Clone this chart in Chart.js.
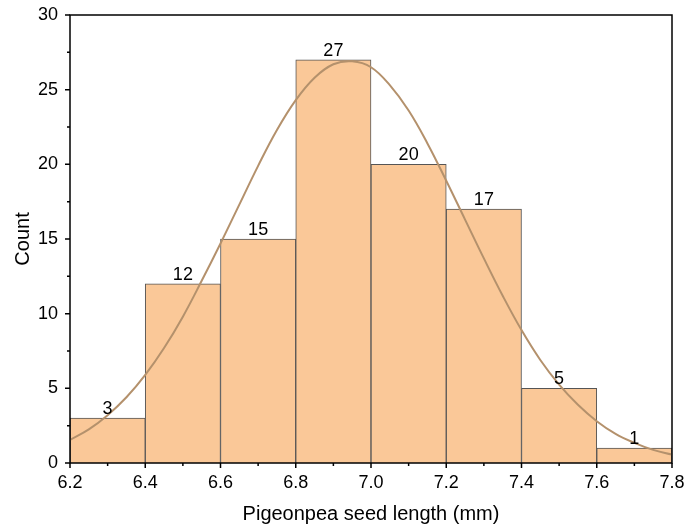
<!DOCTYPE html>
<html>
<head>
<meta charset="utf-8">
<script src="https://cdn.jsdelivr.net/npm/chart.js@4"></script>
<style>
  html, body { margin: 0; padding: 0; background: #fff; }
  #wrap { width: 686px; height: 531px; }
</style>
</head>
<body>
<div id="wrap"><canvas id="histChart"></canvas></div>
<script>
// histogram bins (centres) and counts
const binCenters = [6.3, 6.5, 6.7, 6.9, 7.1, 7.3, 7.5, 7.7];
const counts = [3, 12, 15, 27, 20, 17, 5, 1];

// fitted curve
const curveX = [6.2, 6.25, 6.3, 6.35, 6.4, 6.45, 6.5, 6.55, 6.6, 6.65, 6.7, 6.75, 6.8, 6.85, 6.9, 6.95,
                7.0, 7.05, 7.1, 7.15, 7.2, 7.25, 7.3, 7.35, 7.4, 7.45, 7.5, 7.55, 7.6, 7.65, 7.7, 7.75, 7.8];
const curveY = [1.55, 2.25, 3.2, 4.4, 5.9, 7.7, 9.8, 12.2, 14.7, 17.3, 19.9, 22.3, 24.3, 25.8, 26.7, 26.9,
                26.5, 25.3, 23.6, 21.4, 18.9, 16.3, 13.7, 11.2, 8.9, 6.9, 5.25, 3.9, 2.8, 1.95, 1.35, 0.88, 0.56];

const xMajor = [6.2, 6.4, 6.6, 6.8, 7.0, 7.2, 7.4, 7.6, 7.8];
const yMajor = [0, 5, 10, 15, 20, 25, 30];

const font = '"Liberation Sans", Arial, sans-serif';

const framePlugin = {
  id: 'frame',
  afterDatasetsDraw(chart) {
    const ctx = chart.ctx;
    const meta = chart.getDatasetMeta(1);
    ctx.save();
    ctx.fillStyle = '#000';
    ctx.font = '18px ' + font;
    ctx.textAlign = 'center';
    ctx.textBaseline = 'alphabetic';
    meta.data.forEach((bar, i) => {
      ctx.fillText(String(counts[i]), bar.x, bar.y - 4);
    });
    ctx.restore();
  },
  afterDraw(chart) {
    const ctx = chart.ctx;
    const a = chart.chartArea;
    const xs = chart.scales.x, ys = chart.scales.y;
    ctx.save();
    ctx.strokeStyle = '#000';
    ctx.lineWidth = 1.5;
    ctx.strokeRect(a.left, a.top, a.right - a.left, a.bottom - a.top);
    ctx.beginPath();
    xMajor.forEach((v, i) => {
      const px = xs.getPixelForValue(v);
      ctx.moveTo(px, a.bottom); ctx.lineTo(px, a.bottom + 5);
      if (i < xMajor.length - 1) {
        const mx = xs.getPixelForValue(v + 0.1);
        ctx.moveTo(mx, a.bottom); ctx.lineTo(mx, a.bottom + 3);
      }
    });
    yMajor.forEach((v, i) => {
      const py = ys.getPixelForValue(v);
      ctx.moveTo(a.left, py); ctx.lineTo(a.left - 5, py);
      if (i < yMajor.length - 1) {
        const my = ys.getPixelForValue(v + 2.5);
        ctx.moveTo(a.left, my); ctx.lineTo(a.left - 3, my);
      }
    });
    ctx.stroke();
    ctx.restore();
  }
};

new Chart(document.getElementById('histChart'), {
  type: 'bar',
  data: {
    datasets: [{
      type: 'line',
      label: 'Normal fit',
      data: curveX.map((x, i) => ({ x: x, y: curveY[i] })),
      borderColor: '#B4916C',
      borderWidth: 2,
      pointRadius: 0,
      tension: 0.4,
      fill: false
    }, {
      label: 'Count',
      data: binCenters.map((x, i) => ({ x: x, y: counts[i] })),
      backgroundColor: '#FAC898',
      borderColor: '#555555',
      borderWidth: 1,
      barPercentage: 1,
      categoryPercentage: 1
    }]
  },
  options: {
    responsive: true,
    maintainAspectRatio: false,
    animation: false,
    layout: { padding: { top: 15, right: 14, left: 0, bottom: 0 } },
    scales: {
      x: {
        type: 'linear',
        offset: false,
        min: 6.2,
        max: 7.8,
        grid: { display: false, drawTicks: false },
        border: { display: false },
        ticks: {
          stepSize: 0.2,
          padding: 9,
          color: '#000',
          font: { family: font, size: 18 },
          maxRotation: 0,
          callback: v => Number(v).toFixed(1)
        },
        title: {
          display: true,
          text: 'Pigeonpea seed length (mm)',
          color: '#000',
          font: { family: font, size: 20 },
          padding: { top: 2, bottom: 5 }
        },
        afterFit: s => { s.height = 68; s.paddingLeft = 0; s.paddingRight = 0; }
      },
      y: {
        min: 0,
        max: 30,
        grid: { display: false, drawTicks: false },
        border: { display: false },
        ticks: {
          stepSize: 5,
          padding: 12,
          color: '#000',
          font: { family: font, size: 18 }
        },
        title: {
          display: true,
          text: 'Count',
          color: '#000',
          font: { family: font, size: 20 },
          padding: { top: 11, bottom: 0 }
        },
        afterFit: s => { s.width = 70; s.paddingTop = 0; s.paddingBottom = 0; }
      }
    },
    plugins: {
      legend: { display: false },
      tooltip: { enabled: false }
    }
  },
  plugins: [framePlugin]
});
</script>
</body>
</html>
